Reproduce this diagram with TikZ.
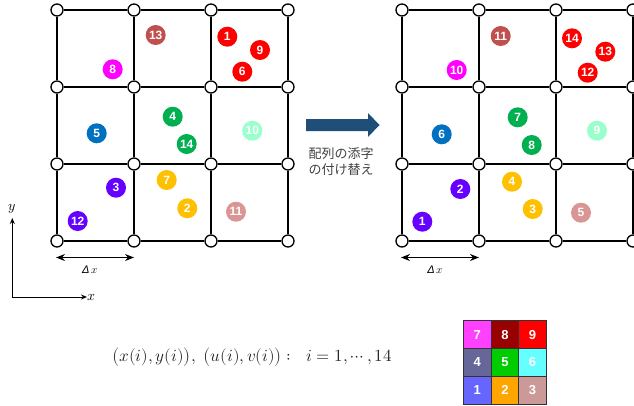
\documentclass[tikz,border=0pt]{standalone}
\usepackage{fontspec}
\usepackage{unicode-math}
\setmathfont{Latin Modern Math}
\newfontfamily\numfont{Liberation Sans}
\newfontfamily\jpfont{Noto Sans CJK JP}
\usetikzlibrary{arrows.meta}
\definecolor{cRed}{HTML}{FF0000}
\definecolor{cBrown}{HTML}{C0504D}
\definecolor{cMag}{HTML}{FF00FF}
\definecolor{cBlue}{HTML}{0070C0}
\definecolor{cGreen}{HTML}{00B050}
\definecolor{cMint}{HTML}{99FFCC}
\definecolor{cPurple}{HTML}{6600FF}
\definecolor{cGold}{HTML}{FFC000}
\definecolor{cRose}{HTML}{D99694}
\definecolor{arrowblue}{HTML}{1F4E79}
\definecolor{lg7}{HTML}{FF40FF}
\definecolor{lg8}{HTML}{990000}
\definecolor{lg9}{HTML}{FF0000}
\definecolor{lg4}{HTML}{666699}
\definecolor{lg5}{HTML}{00CC00}
\definecolor{lg6}{HTML}{66FFFF}
\definecolor{lg1}{HTML}{6666FF}
\definecolor{lg2}{HTML}{FFA500}
\definecolor{lg3}{HTML}{CC9999}
\tikzset{
  vtx/.style={circle, draw=black, fill=white, line width=1.3pt, minimum size=12pt, inner sep=0pt},
  gridline/.style={line width=1.6pt, black},
  pt/.style={circle, fill=#1, minimum size=20pt, inner sep=0pt, text=white,
    font=\numfont\bfseries\fontsize{12}{12}\selectfont},
  cell/.style={draw=black!80, line width=0.8pt, fill=#1, minimum size=27.7pt, inner sep=0pt,
    text=white, font=\numfont\bfseries\fontsize{13}{13}\selectfont},
  axis/.style={line width=1pt, -{Stealth[length=6pt,width=5pt]}},
  dxarrow/.style={line width=1.3pt, {Stealth[length=9pt,width=7pt]}-{Stealth[length=9pt,width=7pt]}},
  dxlabel/.style={font=\fontsize{11}{11}\selectfont},
  axlabel/.style={font=\fontsize{14}{14}\selectfont},
}
\begin{document}
\begin{tikzpicture}[x=1pt,y=-1pt]
\useasboundingbox (0,0) rectangle (634,405);
% grids
\foreach \c in {0,1,2,3}{
  \foreach \r in {0,1,2,3}{
    \node[vtx] (L\c\r) at ({57+77*\c},{10+77*\r}) {};
    \node[vtx] (R\c\r) at ({402+77*\c},{10+77*\r}) {};
  }
}
\foreach \g in {L,R}{
  \foreach \a/\b in {0/1,1/2,2/3}{
    \foreach \k in {0,1,2,3}{
      \draw[gridline] (\g\a\k) -- (\g\b\k);
      \draw[gridline] (\g\k\a) -- (\g\k\b);
    }
  }
}
% left particles
\node[pt=cBrown] (l13) at (155.7,35) {13};
\node[pt=cRed] (l1) at (227.3,36.7) {1};
\node[pt=cRed] (l9) at (260,50) {9};
\node[pt=cRed] (l6) at (242.3,71.7) {6};
\node[pt=cMag] (l8) at (112.7,69.3) {8};
\node[pt=cGreen] (l4) at (172.7,116.7) {4};
\node[pt=cGreen] (l14) at (186.7,144) {14};
\node[pt=cBlue] (l5) at (96.7,133.3) {5};
\node[pt=cMint] (l10) at (252.3,130.7) {10};
\node[pt=cGold] (l7) at (166.7,180) {7};
\node[pt=cPurple] (l3) at (116,187.7) {3};
\node[pt=cGold] (l2) at (187.3,208.3) {2};
\node[pt=cRose] (l11) at (236,211.7) {11};
\node[pt=cPurple] (l12) at (77.7,221) {12};
% right particles
\node[pt=cBrown] (r11) at (500.7,36) {11};
\node[pt=cRed] (r14) at (572,38.3) {14};
\node[pt=cRed] (r13) at (605.3,51.7) {13};
\node[pt=cRed] (r12) at (587.7,72.7) {12};
\node[pt=cMag] (r10) at (456.7,70) {10};
\node[pt=cGreen] (r7) at (517.7,117.3) {7};
\node[pt=cGreen] (r8) at (531.7,145) {8};
\node[pt=cBlue] (r6) at (441.7,134.3) {6};
\node[pt=cMint] (r9) at (597,130.7) {9};
\node[pt=cGold] (r4) at (512,181.7) {4};
\node[pt=cPurple] (r2) at (460.3,189) {2};
\node[pt=cGold] (r3) at (532.7,209) {3};
\node[pt=cRose] (r5) at (581,212.7) {5};
\node[pt=cPurple] (r1) at (422.3,221.7) {1};
% block arrow
\fill[arrowblue] (306,119) -- (368,119) -- (368,113) -- (379.5,125) -- (368,137) -- (368,131) -- (306,131) -- cycle;
\node[font=\jpfont\fontsize{13}{16}\selectfont, text=black!75, align=left] (lbl) at (341,161.5) {配列の添字\\の付け替え};
% axes
\coordinate (O) at (12.3,297);
\coordinate (Ytip) at (12.3,218);
\coordinate (Xtip) at (87,297);
\draw[axis] (O) -- (Ytip);
\draw[axis] (O) -- (Xtip);
\node[axlabel] (ylab) at (12.5,209) {$y$};
\node[axlabel] (xlab) at (91.5,297) {$x$};
% delta x
\coordinate (dLa) at (56,257.5);
\coordinate (dLb) at (134,257.5);
\coordinate (dRa) at (401,257.5);
\coordinate (dRb) at (479,257.5);
\draw[dxarrow] (dLa) -- (dLb);
\draw[dxarrow] (dRa) -- (dRb);
\node[dxlabel] (dxL) at (90,269.5) {{\numfont\itshape Δ}\,$x$};
\node[dxlabel] (dxR) at (435,269.5) {{\numfont\itshape Δ}\,$x$};
% formula
\node[font=\fontsize{17}{17}\selectfont, text=black!85] (formula) at (252,357.5)
  {$\bigl(x(i),y(i)\bigr),\ \bigl(u(i),v(i)\bigr):\ \ i=1,\cdots,14$};
% legend
\node[cell=lg7] (c7) at (477.2,334.7) {7};
\node[cell=lg8] (c8) at (504.9,334.7) {8};
\node[cell=lg9] (c9) at (532.6,334.7) {9};
\node[cell=lg4] (c4) at (477.2,362.4) {4};
\node[cell=lg5] (c5) at (504.9,362.4) {5};
\node[cell=lg6] (c6) at (532.6,362.4) {6};
\node[cell=lg1] (c1) at (477.2,390.1) {1};
\node[cell=lg2] (c2) at (504.9,390.1) {2};
\node[cell=lg3] (c3) at (532.6,390.1) {3};
\end{tikzpicture}
\end{document}
